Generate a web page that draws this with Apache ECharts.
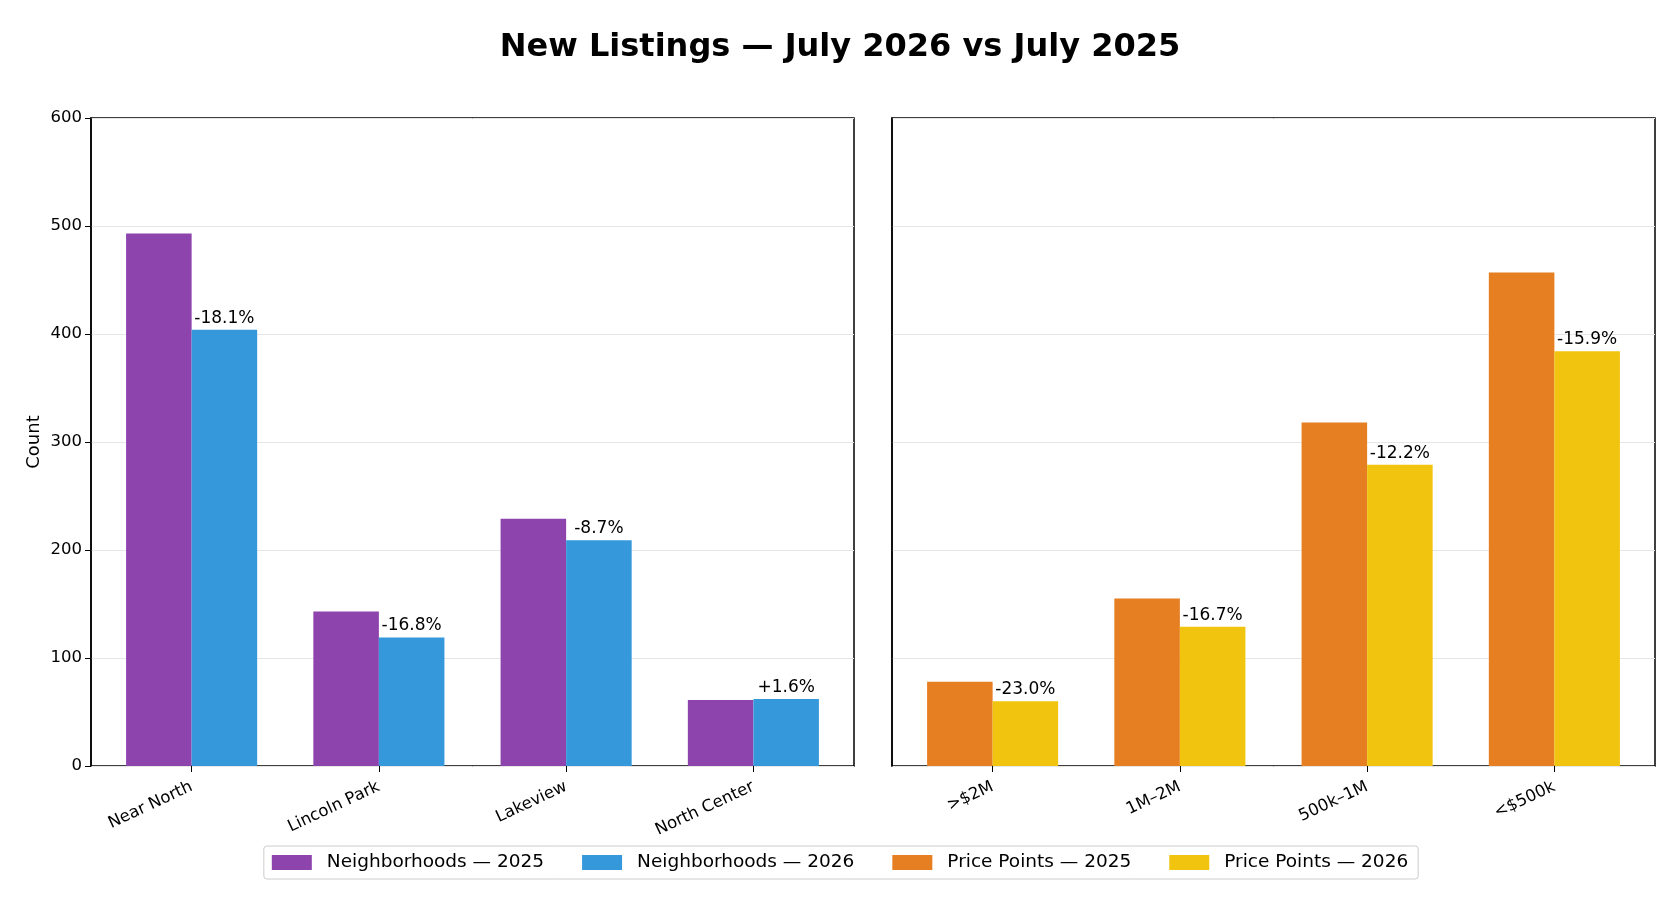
<!DOCTYPE html>
<html>
<head>
<meta charset="utf-8">
<title>New Listings</title>
<script src="https://cdn.jsdelivr.net/npm/echarts@6/dist/echarts.min.js"></script>
<style>
  html, body { margin: 0; padding: 0; background: #fff; }
  #chart { width: 1680px; height: 913px; }
</style>
</head>
<body>
<div id="chart"></div>
<script>
// data
const hoods = ['Near North', 'Lincoln Park', 'Lakeview', 'North Center'];
const hoods2025 = [493, 143, 229, 61];
const hoods2026 = [404, 119, 209, 62];
const hoodsChange = ['-18.1%', '-16.8%', '-8.7%', '+1.6%'];

const prices = ['>$2M', '1M–2M', '500k–1M', '<$500k'];
const prices2025 = [78, 155, 318, 457];
const prices2026 = [60, 129, 279, 384];
const pricesChange = ['-23.0%', '-16.7%', '-12.2%', '-15.9%'];

const yTicks = [0, 100, 200, 300, 400, 500, 600];

const font = 'DejaVu Sans';
const colors = {
  hood25: '#8e44ad',
  hood26: '#3498db',
  price25: '#e67e22',
  price26: '#f1c40f'
};

var chart = echarts.init(document.getElementById('chart'), null, { renderer: 'canvas' });

// panels: frame grid draws the box + y axis, data grid (slightly inset) holds the bars
const panelLeft = [91, 892];
const panelTop = 118, panelW = 763, panelH = 648;
const inset = 7;

function frameGrid(i) {
  return { left: panelLeft[i], top: panelTop, width: panelW, height: panelH,
    show: true, borderColor: '#000', borderWidth: 1.5, backgroundColor: 'transparent' };
}
function dataGrid(i) {
  return { left: panelLeft[i] + inset, top: panelTop, width: panelW - 2 * inset, height: panelH };
}

function frameX(gridIdx) {
  return { type: 'category', gridIndex: gridIdx, data: [''], show: false };
}
function frameY(gridIdx, showLabels) {
  return {
    type: 'value',
    gridIndex: gridIdx,
    min: yTicks[0],
    max: yTicks[yTicks.length - 1],
    interval: 100,
    name: showLabels ? 'Count' : '',
    nameLocation: 'middle',
    nameGap: 48,
    nameTextStyle: { color: '#000', fontFamily: font, fontSize: 18 },
    axisLine: { show: true, lineStyle: { color: '#000', width: 1.5 } },
    axisTick: { show: showLabels, length: 6, lineStyle: { color: '#000' } },
    axisLabel: { show: showLabels, color: '#000', fontFamily: font, fontSize: 16.5, margin: 9 },
    splitLine: { show: true, lineStyle: { color: '#e6e6e6', width: 1 } }
  };
}
function dataX(gridIdx, cats) {
  return {
    type: 'category',
    gridIndex: gridIdx,
    data: cats,
    axisLine: { show: false },
    axisTick: { show: true, alignWithLabel: true, length: 6, lineStyle: { color: '#000' } },
    axisLabel: { rotate: 25, color: '#000', fontFamily: font, fontSize: 16.5, margin: 20, interval: 0 }
  };
}
function dataY(gridIdx) {
  return { type: 'value', gridIndex: gridIdx, min: yTicks[0], max: yTicks[yTicks.length - 1],
    interval: 100, show: false, splitLine: { show: false } };
}

function barSeries(name, data, color, axisIdx, labels) {
  let s = {
    name: name,
    type: 'bar',
    xAxisIndex: axisIdx,
    yAxisIndex: axisIdx,
    data: data,
    barWidth: '35%',
    barGap: '0%',
    itemStyle: { color: color },
    emphasis: { disabled: true }
  };
  if (labels) {
    s.label = {
      show: true,
      position: 'top',
      distance: 3,
      color: '#000',
      fontFamily: font,
      fontSize: 17,
      formatter: p => labels[p.dataIndex]
    };
  }
  return s;
}

var option = {
  backgroundColor: '#fff',
  animation: false,
  title: {
    text: 'New Listings — July 2026 vs July 2025',
    left: 'center',
    top: 27,
    textStyle: { fontFamily: font, fontSize: 32, fontWeight: 'bold', color: '#000' }
  },
  // 0,1 = frames ; 2,3 = data
  grid: [frameGrid(0), frameGrid(1), dataGrid(0), dataGrid(1)],
  xAxis: [frameX(0), frameX(1), dataX(2, hoods), dataX(3, prices)],
  yAxis: [frameY(0, true), frameY(1, false), dataY(2), dataY(3)],
  legend: {
    left: 'center',
    top: 846,
    itemWidth: 40,
    itemHeight: 15,
    itemGap: 38,
    padding: [7, 10, 7, 8],
    borderColor: '#cccccc',
    borderWidth: 1,
    borderRadius: 3,
    icon: 'rect',
    textStyle: { fontFamily: font, fontSize: 18.5, color: '#000', padding: [0, 0, 0, 10] },
    data: ['Neighborhoods — 2025', 'Neighborhoods — 2026', 'Price Points — 2025', 'Price Points — 2026']
  },
  series: [
    barSeries('Neighborhoods — 2025', hoods2025, colors.hood25, 2),
    barSeries('Neighborhoods — 2026', hoods2026, colors.hood26, 2, hoodsChange),
    barSeries('Price Points — 2025', prices2025, colors.price25, 3),
    barSeries('Price Points — 2026', prices2026, colors.price26, 3, pricesChange)
  ]
};

chart.setOption(option);
</script>
</body>
</html>
